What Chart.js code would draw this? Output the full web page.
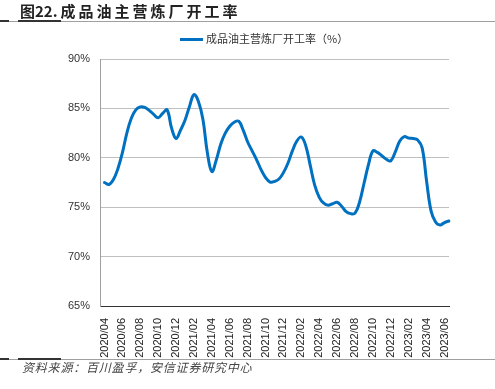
<!DOCTYPE html>
<html lang="zh">
<head>
<meta charset="UTF-8">
<title>成品油主营炼厂开工率</title>
<script src="https://cdn.jsdelivr.net/npm/chart.js@4.4.0/dist/chart.umd.min.js"></script>
<style>
  body{margin:0;width:495px;height:389px;position:relative;background:#fff;overflow:hidden;font-family:"Noto Sans CJK SC",sans-serif;}
  #title{position:absolute;left:20px;top:2px;font-size:15px;line-height:17px;font-weight:bold;color:#222;white-space:nowrap;}
  #title span{letter-spacing:3px;margin-left:3px;}
  .rule{position:absolute;left:0;width:495px;height:1px;background:#a0a0a0;}
  .mark{position:absolute;height:2px;background:#333;}
  #legend{position:absolute;left:180px;top:31px;font-size:11px;line-height:14px;color:#333;white-space:nowrap;}
  #legend span.bar{display:inline-block;width:23px;height:3px;background:#0070c0;vertical-align:middle;margin-right:3px;position:relative;top:-1px;}
  #src{position:absolute;left:22px;top:360px;font-size:12px;line-height:14px;font-style:italic;color:#444;letter-spacing:0.8px;white-space:nowrap;}
  #wrap{position:absolute;left:0;top:0;width:495px;height:389px;}
</style>
</head>
<body>
<div id="wrap"><canvas id="chart"></canvas></div>
<div id="title">图22.<span>成品油主营炼厂开工率</span></div>
<div class="rule" style="top:21px"></div>
<div class="mark" style="top:20px;left:0;width:9px"></div>
<div class="mark" style="top:20px;left:18px;width:43px"></div>
<div id="legend"><span class="bar"></span>成品油主营炼厂开工率（%）</div>
<div class="rule" style="top:359px"></div>
<div class="mark" style="top:358px;left:0;width:9px"></div>
<div class="mark" style="top:358px;left:18px;width:43px"></div>
<div id="src">资料来源：百川盈孚，安信证券研究中心</div>
<script>
// 半月一个点，首个点为空（留出左侧空白）
const tickLabels = ["2020/04","2020/06","2020/08","2020/10","2020/12","2021/02","2021/04","2021/06","2021/08","2021/10",
                    "2021/12","2022/02","2022/04","2022/06","2022/08","2022/10","2022/12","2023/02","2023/04","2023/06"];

const categories = ["2020/03/16"];
for (let y = 2020; y <= 2023; y++) {
  for (let m = 1; m <= 12; m++) {
    if ((y === 2020 && m < 4) || (y === 2023 && m > 6)) continue;
    const mm = String(m).padStart(2, "0");
    categories.push(y + "/" + mm + "/01", y + "/" + mm + "/16");
  }
}

const rates = [null,
  77.5, 77.3, 77.8, 78.9, 80.5, 82.5, 84.0, 84.85, 85.15, 85.1,
  84.8, 84.4, 84.05, 84.5, 84.85, 83.0, 81.95, 82.8, 83.8, 85.2,
  86.4, 85.7, 83.9, 80.5, 78.6, 79.8, 81.4, 82.5, 83.2, 83.6,
  83.7, 82.8, 81.6, 80.7, 79.8, 78.8, 78.0, 77.55, 77.6, 77.85,
  78.5, 79.45, 80.7, 81.7, 82.1, 81.2, 79.2, 77.2, 76.0, 75.4,
  75.2, 75.35, 75.5, 75.1, 74.55, 74.35, 74.4, 75.5, 77.4, 79.3,
  80.7, 80.55, 80.2, 79.85, 79.7, 80.6, 81.7, 82.15, 82.0, 81.95,
  81.8, 81.0, 77.6, 74.6, 73.5, 73.2, 73.45, 73.6];

new Chart(document.getElementById("chart"), {
  type: "line",
  data: {
    labels: categories,
    datasets: [{
      label: "成品油主营炼厂开工率（%）",
      data: rates,
      borderColor: "#0070c0",
      borderWidth: 3,
      pointRadius: 0,
      tension: 0.4,
      fill: false,
      borderCapStyle: "round"
    }]
  },
  options: {
    responsive: true,
    maintainAspectRatio: false,
    animation: false,
    layout: { padding: { top: 59, right: 46, bottom: 30, left: 0 } },
    plugins: { legend: { display: false }, tooltip: { enabled: false } },
    scales: {
      x: {
        grid: { display: false },
        border: { color: "#333", width: 1 },
        afterFit: function (s) { s.height = 53; },
        ticks: {
          autoSkip: false,
          minRotation: 90,
          maxRotation: 90,
          padding: 4,
          color: "#222",
          font: { family: "Liberation Sans", size: 11 },
          callback: function (v, i) {
            const lab = categories[i];
            if (!lab.endsWith("/01")) return "";
            const ym = lab.slice(0, 7);
            return tickLabels.includes(ym) ? ym : "";
          }
        }
      },
      y: {
        min: 65,
        max: 90,
        afterFit: function (s) { s.width = 100; },
        grid: { color: "#c0c0c0", drawTicks: false },
        border: { color: "#a0a0a0" },
        ticks: {
          stepSize: 5,
          padding: 10,
          color: "#333",
          font: { family: "Liberation Sans", size: 11 },
          callback: function (v) { return v + "%"; }
        }
      }
    }
  }
});
</script>
</body>
</html>
